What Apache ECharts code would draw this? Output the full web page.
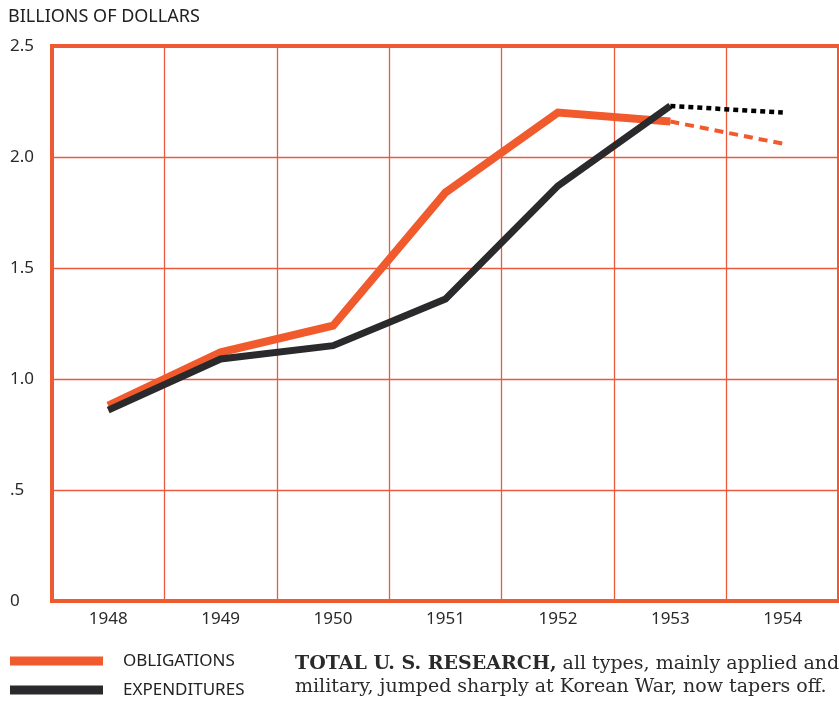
<!DOCTYPE html>
<html>
<head>
<meta charset="utf-8">
<script src="https://cdn.jsdelivr.net/npm/echarts@6/dist/echarts.min.js"></script>
<style>html,body{margin:0;padding:0;background:#fff}#c{width:839px;height:701px}</style>
</head>
<body>
<div id="c"></div>
<script>
var years = ['1948', '1949', '1950', '1951', '1952', '1953', '1954'];
var obligations = [0.88, 1.12, 1.24, 1.84, 2.20, 2.16, null];
var obligationsProjected = [null, null, null, null, null, 2.16, 2.06];
var expenditures = [0.86, 1.09, 1.15, 1.36, 1.87, 2.23, null];
var expendituresProjected = [null, null, null, null, null, 2.23, 2.20];
var yTickLabels = {'0': '0', '0.5': '.5', '1': '1.0', '1.5': '1.5', '2': '2.0', '2.5': '2.5'};
var unitLabel = 'BILLIONS OF DOLLARS';
var captionBold = 'TOTAL U. S. RESEARCH,';
var captionRest1 = ' all types, mainly applied and';
var captionLine2 = 'military, jumped sharply at Korean War, now tapers off.';

var ORANGE = '#f05a2c';
var GRIDC = '#ec5a3e';
var BLACK = '#2a2a2c';
var sans = '"Noto Sans", "DejaVu Sans", sans-serif';

var chart = echarts.init(document.getElementById('c'));
chart.setOption({
  backgroundColor: '#ffffff',
  animation: false,
  grid: {
    left: 52, top: 46, width: 791, height: 555,
    show: true, borderColor: ORANGE, borderWidth: 4, backgroundColor: 'transparent'
  },
  xAxis: {
    type: 'category',
    data: years,
    boundaryGap: true,
    axisLine: {show: true, lineStyle: {color: ORANGE, width: 4}},
    axisTick: {show: false},
    splitLine: {show: true, lineStyle: {color: GRIDC, width: 1.3}},
    axisLabel: {color: '#2a2a2a', fontFamily: sans, fontSize: 17, margin: 10, interval: 0}
  },
  yAxis: {
    type: 'value',
    min: 0, max: 2.5, interval: 0.5,
    axisLine: {show: false},
    axisTick: {show: false},
    splitLine: {show: true, lineStyle: {color: GRIDC, width: 1.3}},
    axisLabel: {
      color: '#2a2a2a', fontFamily: sans, fontSize: 17, align: 'left', margin: 42,
      padding: [0, 0, 6, 0],
      formatter: function (v) { return yTickLabels[String(v)]; }
    }
  },
  legend: {
    orient: 'vertical', left: 10, top: 652, height: 60, padding: 0,
    icon: 'rect', itemWidth: 93, itemHeight: 9, itemGap: 11,
    data: ['OBLIGATIONS', 'EXPENDITURES'],
    textStyle: {color: '#222', fontFamily: sans, fontSize: 17, lineHeight: 18, padding: [0, 0, 0, 15]},
    selectedMode: false
  },
  graphic: [
    {type: 'text', left: 8, top: 8, style: {text: unitLabel, fill: '#222', font: '18px ' + sans}},
    {type: 'text', left: 295, top: 655, style: {
      text: '{b|' + captionBold + '}{n|' + captionRest1 + '}\n{n|' + captionLine2 + '}',
      rich: {
        b: {fontFamily: '"DejaVu Serif", serif', fontWeight: 'bold', fontSize: 19, fill: '#2a2a2a', lineHeight: 23},
        n: {fontFamily: '"DejaVu Serif", serif', fontSize: 19, fill: '#2a2a2a', lineHeight: 23}
      }
    }}
  ],
  series: [
    {name: 'OBLIGATIONS', type: 'line', data: obligations, showSymbol: false, color: ORANGE,
     lineStyle: {color: ORANGE, width: 8, cap: 'butt', join: 'miter'}, z: 3},
    {name: 'OBLIGATIONS (projected)', type: 'line', data: obligationsProjected, showSymbol: false, color: ORANGE,
     lineStyle: {color: ORANGE, width: 4, type: [9, 6]}, z: 3},
    {name: 'EXPENDITURES', type: 'line', data: expenditures, showSymbol: false, color: BLACK,
     lineStyle: {color: BLACK, width: 7, cap: 'butt', join: 'miter'}, z: 4},
    {name: 'EXPENDITURES (projected)', type: 'line', data: expendituresProjected, showSymbol: false, color: '#000',
     lineStyle: {color: '#000', width: 4.5, type: [5, 4]}, z: 4}
  ]
});
</script>
</body>
</html>
